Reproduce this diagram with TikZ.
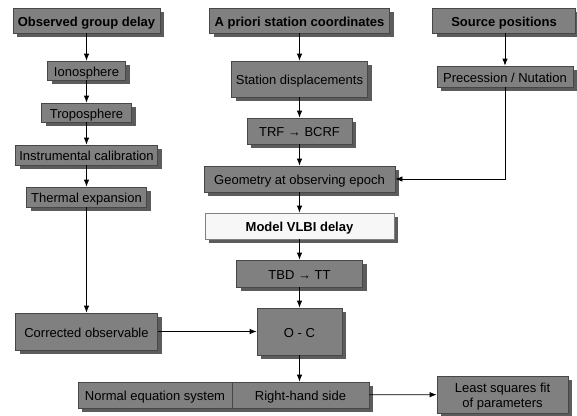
\documentclass[tikz,border=0pt]{standalone}
\usepackage{fontspec}
\setmainfont{Liberation Sans}
\usetikzlibrary{arrows.meta}
\usetikzlibrary{shadows}

\begin{document}
\begin{tikzpicture}[x=1pt,y=-1pt,->,>={Latex[length=7pt,width=5.5pt]},line width=0.8pt,
	box node/.style={rectangle,draw=black!72,fill=black!50,inner sep=0pt,align=center,
		text height=11.3pt,text depth=0.3pt,font=\fontsize{13}{15}\selectfont,
		drop shadow={opacity=1,fill=black!64,shadow xshift=4pt,shadow yshift=-4pt}},
	head node/.style={box node,font=\fontsize{13}{15}\selectfont\bfseries},
	model node/.style={box node,fill=black!3,draw=black!50,font=\fontsize{13}{15}\selectfont\bfseries}]

	\useasboundingbox (0,0) rectangle (577,415);

	% top row
	\node[head node,minimum width=147pt,minimum height=25pt] (obs) at (86.5,20.5) {Observed group delay};
	\node[head node,minimum width=180pt,minimum height=25pt] (apriori) at (299.5,20.5) {A priori station coordinates};
	\node[head node,minimum width=143pt,minimum height=25pt] (source) at (504,20.5) {Source positions};

	% left column
	\node[box node,minimum width=78pt,minimum height=19pt] (iono) at (86.5,70.5) {Ionosphere};
	\node[box node,minimum width=90pt,minimum height=19pt] (tropo) at (86.5,112.5) {Troposphere};
	\node[box node,minimum width=142pt,minimum height=20pt] (instr) at (86.5,155) {Instrumental calibration};
	\node[box node,minimum width=120pt,minimum height=20pt] (thermal) at (86.5,197) {Thermal expansion};
	\node[box node,minimum width=142pt,minimum height=37pt] (corr) at (86.5,331.5) {Corrected observable};

	% middle column
	\node[box node,minimum width=136pt,minimum height=36pt] (station) at (299.5,79) {Station displacements};
	\node[box node,minimum width=105pt,minimum height=26pt] (trf) at (299.5,131) {TRF → BCRF};
	\node[box node,minimum width=191pt,minimum height=26pt] (geom) at (299.5,179) {Geometry at observing epoch};
	\node[model node,minimum width=189pt,minimum height=26pt] (model) at (299.5,226) {Model VLBI delay};
	\node[box node,minimum width=126pt,minimum height=27pt] (tbd) at (299.5,273.5) {TBD → TT};
	\node[box node,minimum width=85pt,minimum height=47pt] (oc) at (299.5,331.5) {O - C};

	% right column
	\node[box node,minimum width=136pt,minimum height=21pt] (prec) at (505,76.5) {Precession / Nutation};

	% bottom row
	\node[box node,minimum width=154pt,minimum height=26pt] (normal) at (155,395) {Normal equation system};
	\node[box node,minimum width=137pt,minimum height=26pt] (rhs) at (300.5,395) {Right-hand side};
	\node[box node,minimum width=131pt,minimum height=37pt,text height=26.3pt] (lsq) at (502.5,394.5) {Least squares fit\\of parameters};

	\path
	(obs) edge (iono)
	(iono) edge (tropo)
	(tropo) edge (instr)
	(instr) edge (thermal)
	(thermal) edge (corr)
	(apriori) edge (station)
	(station) edge (trf)
	(trf) edge (geom)
	(geom) edge (model)
	(model) edge (tbd)
	(tbd) edge (oc)
	(source.south -| prec) edge (prec)
	(corr) edge (oc)
	(oc.south) edge (oc.south |- rhs.north)
	(rhs) edge (lsq);

	\draw (prec) |- (geom);

\end{tikzpicture}
\end{document}
